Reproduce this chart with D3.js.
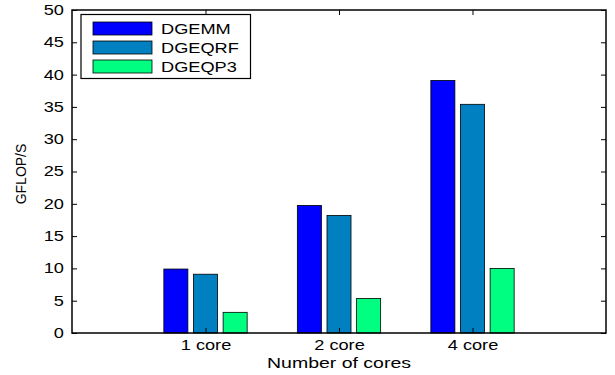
<!DOCTYPE html>
<html><head><meta charset="utf-8">
<script src="https://cdn.jsdelivr.net/npm/d3@7"></script>
<style>body{margin:0;background:#fff}svg{display:block}text{font-family:"Liberation Sans",Arial,sans-serif}</style>
</head><body><svg id="c" width="615" height="375"></svg>
<script>
const categories = ["1 core", "2 core", "4 core"];
const seriesNames = ["DGEMM", "DGEQRF", "DGEQP3"];
const dgemm = [9.9, 19.75, 39.1];
const dgeqrf = [9.1, 18.2, 35.4];
const dgeqp3 = [3.2, 5.35, 10.0];
const yTicks = [0, 5, 10, 15, 20, 25, 30, 35, 40, 45, 50];
const colors = ["#0000ff", "#0080c0", "#00ff80"];
const series = [dgemm, dgeqrf, dgeqp3];

const svg = d3.select("#c");
const L = 72, R = 606, T = 10, B = 333;
const SX = 1.3;          // horizontal text stretch seen in the reference
const fs = 14, lfs = 15;
const x = d3.scaleLinear().domain([0, 4]).range([L, R]);
const y = d3.scaleLinear().domain([0, 50]).range([B, T]);
const barW = 0.18, off = 0.222;

// bars
series.forEach((vals, si) => {
  svg.append("g").selectAll("rect").data(vals).join("rect")
    .attr("x", (d, i) => x(i + 1 + (si - 1) * off - barW / 2))
    .attr("width", x(barW) - x(0))
    .attr("y", d => y(d))
    .attr("height", d => y(0) - y(d))
    .attr("fill", colors[si])
    .attr("stroke", "#000").attr("stroke-width", 0.8);
});

// axes
const yAxisL = d3.axisLeft(y).tickValues(yTicks).tickSizeInner(-5).tickSizeOuter(0).tickPadding(6.2);
svg.append("g").attr("transform", `translate(${L},0)`).call(yAxisL);
const yAxisR = d3.axisRight(y).tickValues(yTicks).tickSizeInner(-5).tickSizeOuter(0).tickFormat("");
svg.append("g").attr("transform", `translate(${R},0)`).call(yAxisR);
const xAxisB = d3.axisBottom(x).tickValues([1, 2, 3]).tickFormat((d) => categories[d - 1]).tickSizeInner(-5).tickSizeOuter(0).tickPadding(7.5);
svg.append("g").attr("transform", `translate(0,${B})`).call(xAxisB);
const xAxisT = d3.axisTop(x).tickValues([1, 2, 3]).tickFormat("").tickSizeInner(-5).tickSizeOuter(0);
svg.append("g").attr("transform", `translate(0,${T})`).call(xAxisT);
svg.selectAll(".domain").remove();
svg.selectAll(".tick line").attr("stroke", "#000").attr("stroke-width", 1);
svg.selectAll(".tick text").attr("font-size", fs + "px").attr("fill", "#000")
  .attr("font-family", '"Liberation Sans",Arial,sans-serif')
  .attr("transform", `scale(${SX},1)`);

svg.append("rect").attr("x", L).attr("y", T).attr("width", R - L).attr("height", B - T)
  .attr("fill", "none").attr("stroke", "#000").attr("stroke-width", 1.5);

// labels
svg.append("text").attr("transform", `translate(${x(2)},368) scale(${SX},1)`)
  .attr("text-anchor", "middle").attr("font-size", lfs + "px").text("Number of cores");
svg.append("text").attr("transform", "translate(26,174) rotate(-90)")
  .attr("text-anchor", "middle").attr("font-size", "14px").text("GFLOP/S");

// legend
const lg = svg.append("g");
lg.append("rect").attr("x", 81).attr("y", 14.5).attr("width", 169.5).attr("height", 64)
  .attr("fill", "#fff").attr("stroke", "#000").attr("stroke-width", 1.2);
seriesNames.forEach((n, i) => {
  lg.append("rect").attr("x", 93).attr("y", 22 + i * 19).attr("width", 59).attr("height", 13)
    .attr("fill", colors[i]).attr("stroke", "#000").attr("stroke-width", 0.8);
  lg.append("text").attr("transform", `translate(161,${34 + i * 19}) scale(${SX},1)`)
    .attr("font-size", fs + "px").text(n);
});
</script></body></html>
